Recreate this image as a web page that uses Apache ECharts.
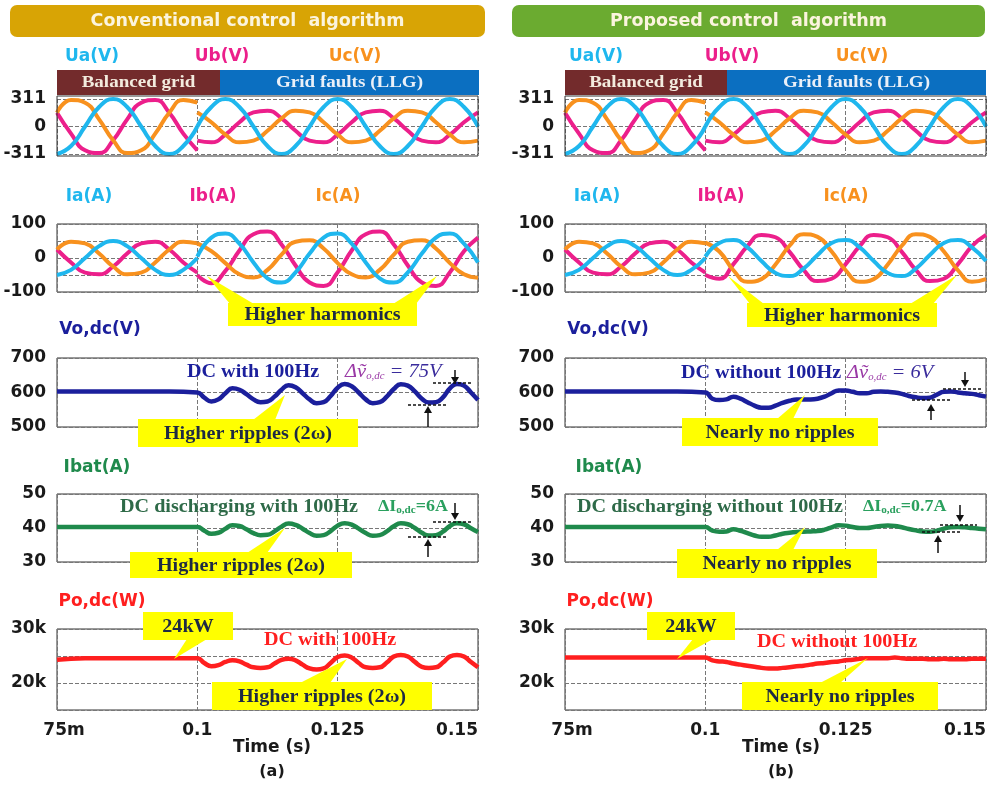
<!DOCTYPE html>
<html>
<head>
<meta charset="utf-8">
<title>Conventional vs proposed control algorithm</title>
<script src="https://cdn.jsdelivr.net/npm/echarts@6/dist/echarts.min.js"></script>
<style>
    html, body { margin: 0; padding: 0; background: #fff; }
    #main { width: 992px; height: 789px; }
</style>
</head>
<body>
<div id="main"></div>
<script>
    var sans = '"DejaVu Sans", Verdana, sans-serif';
    var serif = '"Liberation Serif", "Times New Roman", serif';

    // time stamps (s)
    var tAcPre = [0.075, 0.0775, 0.08, 0.0825, 0.085, 0.0875, 0.09, 0.0925, 0.095, 0.0975, 0.1];
    var tAcPost = [0.1, 0.1025, 0.105, 0.1075, 0.11, 0.1125, 0.115, 0.1175, 0.12, 0.1225, 0.125,
        0.1275, 0.13, 0.1325, 0.135, 0.1375, 0.14, 0.1425, 0.145, 0.1475, 0.15];
    var tDc = [0.075, 0.08, 0.085, 0.09, 0.095, 0.1,
        0.10125, 0.1025, 0.10375, 0.105, 0.10625, 0.1075, 0.10875, 0.11, 0.11125, 0.1125,
        0.11375, 0.115, 0.11625, 0.1175, 0.11875, 0.12, 0.12125, 0.1225, 0.12375, 0.125,
        0.12625, 0.1275, 0.12875, 0.13, 0.13125, 0.1325, 0.13375, 0.135, 0.13625, 0.1375,
        0.13875, 0.14, 0.14125, 0.1425, 0.14375, 0.145, 0.14625, 0.1475, 0.14875, 0.15];

    // grid voltages (V), same in (a) and (b)
    var uaPre = [-311, -220, 0, 220, 311, 220, 0, -220, -311, -220, 0];
    var ubPre = [156, -80, -269, -300, -156, 80, 269, 300, 156, -80, -269];
    var ucPre = [156, 300, 269, 80, -156, -300, -269, -80, 156, 300, 269];
    var uaPost = [0, 220, 311, 220, 0, -220, -311, -220, 0, 220, 311, 220, 0, -220, -311, -220, 0, 220, 311, 220, 0];
    var ubPost = [-160, -179, -93, 48, 160, 179, 93, -48, -160, -179, -93, 48, 160, 179, 93, -48, -160, -179, -93, 48, 160];
    var ucPost = [160, 48, -93, -179, -160, -48, 93, 179, 160, 48, -93, -179, -160, -48, 93, 179, 160, 48, -93, -179, -160];

    // grid currents (A)
    var iaPre = [-50, -35, 0, 35, 50, 35, 0, -35, -50, -35, 0];
    var ibPre = [25, -13, -43, -48, -25, 13, 43, 48, 25, -13, -43];
    var icPre = [25, 48, 43, 13, -25, -48, -43, -13, 25, 48, 43];
    var iaPostA = [4, 60, 72, 42, -13, -60, -72, -42, 13, 60, 72, 42, -13, -60, -72, -42, 13, 60, 72, 42, -13];
    var ibPostA = [-50, -74, -38, 22, 70, 78, 40, -22, -72, -82, -42, 22, 70, 78, 40, -22, -72, -82, -42, 20, 60];
    var icPostA = [43, 20, -15, -48, -57, -35, 10, 48, 52, 28, -15, -48, -57, -35, 10, 48, 52, 28, -15, -48, -58];
    var iaPostB = [4, 44, 53, 31, -9, -44, -53, -31, 9, 44, 53, 31, -9, -44, -53, -31, 9, 44, 53, 31, -9];
    var ibPostB = [-50, -61, -18, 35, 68, 61, 18, -35, -68, -61, -18, 35, 68, 61, 18, -35, -68, -61, -18, 35, 68];
    var icPostB = [45, 19, -36, -70, -62, -19, 36, 70, 62, 19, -36, -70, -62, -19, 36, 70, 62, 19, -36, -70, -62];

    // dc side
    var vdcA = [603, 603, 603, 603, 603, 600, 585, 574, 580, 598, 612, 608, 595, 580, 572, 574,
        588, 608, 621, 615, 598, 580, 569, 572, 590, 614, 625, 618, 600, 580, 569, 572,
        588, 610, 624, 620, 603, 582, 571, 572, 586, 612, 625, 620, 600, 578];
    var vdcB = [603, 603, 603, 603, 603, 600, 582, 578, 580, 588, 582, 572, 562, 556, 556, 562,
        570, 576, 580, 580, 580, 582, 588, 598, 606, 606, 602, 598, 598, 602, 603, 602,
        600, 596, 590, 586, 584, 585, 594, 602, 603, 600, 598, 596, 592, 588];
    var ibatA = [40.3, 40.3, 40.3, 40.3, 40.3, 40.3, 39.2, 38.3, 38.6, 39.8, 40.8, 40.6, 39.6, 38.5, 37.9, 38.0,
        39.0, 40.4, 41.3, 40.9, 39.8, 38.5, 37.7, 37.9, 39.1, 40.7, 41.4, 41.0, 39.8, 38.5, 37.7, 37.9,
        39.0, 40.5, 41.4, 41.1, 40.0, 38.6, 37.8, 37.9, 38.9, 40.6, 41.4, 41.1, 39.9, 38.8];
    var ibatB = [40.3, 40.3, 40.3, 40.3, 40.3, 40.3, 39.2, 38.9, 39.0, 39.6, 39.2, 38.5, 37.8, 37.4, 37.4, 37.8,
        38.3, 38.6, 38.8, 38.9, 39.0, 39.1, 39.5, 40.2, 40.8, 40.7, 40.3, 40.0, 40.0, 40.3, 40.6, 40.7,
        40.6, 40.2, 39.7, 39.3, 39.0, 38.9, 39.2, 39.8, 40.2, 40.3, 40.2, 40.0, 39.8, 39.6];
    var pdcA = [24300, 24600, 24600, 24600, 24600, 24600, 23700, 23100, 23300, 23900, 24200, 24000, 23400, 22900, 22800, 22900,
        23600, 24300, 24500, 24200, 23400, 22700, 22500, 22700, 23700, 24800, 25100, 24700, 23700, 22900, 22800, 22900,
        23800, 24900, 25200, 24900, 23900, 23000, 22800, 22900, 23800, 24900, 25200, 24900, 23900, 22900];
    var pdcB = [24700, 24700, 24700, 24700, 24700, 24700, 24200, 24000, 23900, 23600, 23400, 23200, 23000, 22800, 22700, 22700,
        22800, 22900, 23100, 23200, 23400, 23600, 23700, 23900, 24000, 24200, 24300, 24500, 24600, 24600, 24600, 24600,
        24700, 24600, 24500, 24500, 24500, 24400, 24400, 24500, 24400, 24400, 24400, 24500, 24500, 24500];

    var cyan = '#1fb7ee', magenta = '#ec1f8b', orange = '#f8911e';
    var navy = '#1b1f9c', green = '#1f8a4c', red = '#ff1f1f';
    var callout = '#ffff00', calloutText = '#1e2a44';

    var colLeft = [57, 565];
    var rows = [
        { top: 99, height: 55, min: -311, max: 311, interval: 311 },
        { top: 224, height: 68, min: -100, max: 100, interval: 50 },
        { top: 358, height: 69, min: 500, max: 700, interval: 100 },
        { top: 494, height: 68, min: 30, max: 50, interval: 10 },
        { top: 629, height: 81, min: 15000, max: 30000, interval: 5000 }
    ];
    var yFmt = [
        function (v) { return v; },
        function (v) { return Math.abs(v) === 50 ? '' : v; },
        function (v) { return v; },
        function (v) { return v; },
        function (v) { return (v === 30000 || v === 20000) ? (v / 1000) + 'k' : ''; }
    ];

    function pairs(ts, vs) {
        return ts.map(function (t, i) { return [t, vs[i]]; });
    }

    var grid = [], xAxis = [], yAxis = [];
    for (var c = 0; c < 2; c++) {
        for (var r = 0; r < 5; r++) {
            var gi = c * 5 + r;
            grid.push({
                left: colLeft[c], top: rows[r].top, width: 421, height: rows[r].height,
                show: r > 0, borderColor: '#333', borderWidth: 1, backgroundColor: 'transparent'
            });
            xAxis.push({
                type: 'value', gridIndex: gi, min: 0.075, max: 0.15, interval: 0.025,
                axisLine: { show: false }, axisTick: { show: false },
                splitLine: { show: true, lineStyle: { type: 'dashed', color: '#777', width: 1 } },
                axisLabel: {
                    show: r === 4, margin: 12, color: '#1a1a1a', fontFamily: sans, fontWeight: 'bold', fontSize: 17,
                    alignMaxLabel: 'right',
                    formatter: function (v) { return v < 0.08 ? '{m|75m}' : String(+v.toFixed(3)); },
                    rich: { m: { padding: [0, 0, 0, 14], fontFamily: sans, fontWeight: 'bold', fontSize: 17, color: '#1a1a1a' } }
                }
            });
            yAxis.push({
                type: 'value', gridIndex: gi, min: rows[r].min, max: rows[r].max, interval: rows[r].interval,
                axisLine: { show: false }, axisTick: { show: false },
                splitLine: { show: true, lineStyle: { type: 'dashed', color: '#777', width: 1 } },
                axisLabel: { margin: 11, color: '#1a1a1a', fontFamily: sans, fontWeight: 'bold', fontSize: 17, formatter: yFmt[r] }
            });
        }
    }

    function line(gi, ts, vs, color, w) {
        return {
            type: 'line', xAxisIndex: gi, yAxisIndex: gi, data: pairs(ts, vs),
            showSymbol: false, smooth: true, clip: false, silent: true,
            lineStyle: { color: color, width: w || 4 }, itemStyle: { color: color }
        };
    }

    var series = [];
    var iPost = [[iaPostA, ibPostA, icPostA], [iaPostB, ibPostB, icPostB]];
    var dc = [[vdcA, ibatA, pdcA], [vdcB, ibatB, pdcB]];
    for (c = 0; c < 2; c++) {
        var g = c * 5;
        series.push(line(g, tAcPre, ubPre, magenta), line(g, tAcPost, ubPost, magenta));
        series.push(line(g, tAcPre, ucPre, orange), line(g, tAcPost, ucPost, orange));
        series.push(line(g, tAcPre, uaPre, cyan), line(g, tAcPost, uaPost, cyan));
        series.push(line(g + 1, tAcPre, ibPre, magenta), line(g + 1, tAcPost, iPost[c][1], magenta));
        series.push(line(g + 1, tAcPre, icPre, orange), line(g + 1, tAcPost, iPost[c][2], orange));
        series.push(line(g + 1, tAcPre, iaPre, cyan), line(g + 1, tAcPost, iPost[c][0], cyan));
        series.push(line(g + 2, tDc, dc[c][0], navy, 4.5));
        series.push(line(g + 3, tDc, dc[c][1], green, 4.5));
        series.push(line(g + 4, tDc, dc[c][2], red, 4.5));
    }

    // ---- annotations ----
    function txt(x, y, s, color, font, sx) {
        return { type: 'text', x: x, y: y, z: 50, silent: true, scaleX: sx || 1,
            style: { text: s, fill: color, font: font, textAlign: 'center', textVerticalAlign: 'middle' } };
    }
    function stxt(x, y, s, color, size) {
        return txt(x, y, s, color, 'bold ' + (size || 18) + 'px ' + serif, 1.12);
    }
    function box(x, y, w, h, color, rr) {
        return { type: 'rect', z: 40, silent: true, shape: { x: x, y: y, width: w, height: h, r: rr || 0 }, style: { fill: color } };
    }
    function wedge(pts) {
        return { type: 'polygon', z: 40, silent: true, shape: { points: pts }, style: { fill: callout } };
    }
    function dash(x1, x2, y) {
        return { type: 'line', z: 45, silent: true, shape: { x1: x1, y1: y, x2: x2, y2: y },
            style: { stroke: '#111', lineWidth: 1.3, lineDash: [3, 2] } };
    }
    function arrow(x, y1, y2) {
        var d = y2 > y1 ? 1 : -1;
        return [
            { type: 'line', z: 45, silent: true, shape: { x1: x, y1: y1, x2: x, y2: y2 - d * 6 }, style: { stroke: '#111', lineWidth: 1.5 } },
            { type: 'polygon', z: 45, silent: true, shape: { points: [[x - 4, y2 - d * 7], [x + 4, y2 - d * 7], [x, y2]] }, style: { fill: '#111' } }
        ];
    }
    function calloutBox(x, y, w, h, label, wedges) {
        var out = [box(x, y, w, h, callout)];
        wedges.forEach(function (p) { out.push(wedge(p)); });
        out.push(stxt(x + w / 2, y + h / 2 + 1, label, calloutText));
        return out;
    }
    function deltaV(x, y, val) {
        return { type: 'text', x: x, y: y, z: 50, silent: true, scaleX: 1.08,
            style: { text: '{d|Δṽ}{s|o,dc}{e| = ' + val + '}', textVerticalAlign: 'middle',
                rich: {
                    d: { fill: '#9a3aa6', font: 'italic 19px ' + serif },
                    s: { fill: '#9a3aa6', font: 'italic 10px ' + serif, verticalAlign: 'bottom' },
                    e: { fill: '#3a2c9c', font: 'italic 19px ' + serif }
                } } };
    }
    function deltaI(x, y, val) {
        return { type: 'text', x: x, y: y, z: 50, silent: true, scaleX: 1.12,
            style: { text: '{d|ΔI}{s|o,dc}{d|=' + val + '}', textVerticalAlign: 'middle',
                rich: {
                    d: { fill: '#2aa05e', font: 'bold 16px ' + serif },
                    s: { fill: '#2aa05e', font: 'bold 10px ' + serif, verticalAlign: 'bottom' }
                } } };
    }

    var lab = 'bold 17px ' + sans;
    var graphic = [];
    var heads = [
        { x: 10, w: 475, color: '#d8a405', text: 'Conventional control  algorithm' },
        { x: 512, w: 473, color: '#6bab30', text: 'Proposed control  algorithm' }
    ];
    var legendX = [[92, 222, 355, 89, 213, 338, 100, 97, 102, 272], [596, 732, 862, 597, 721, 846, 608, 609, 610, 781]];
    var boxX = [[57, 220, 479], [565, 727, 986]];
    for (c = 0; c < 2; c++) {
        var h = heads[c], L = legendX[c], B = boxX[c];
        graphic.push(box(h.x, 5, h.w, 32, h.color, 7));
        graphic.push(txt(h.x + h.w / 2, 21, h.text, '#fbf4de', 'bold 17.5px ' + sans));
        graphic.push(txt(L[0], 57, 'Ua(V)', cyan, lab), txt(L[1], 57, 'Ub(V)', magenta, lab), txt(L[2], 57, 'Uc(V)', orange, lab));
        graphic.push(box(B[0], 70, B[1] - B[0], 25, '#732b2c'), box(B[1], 70, B[2] - B[1], 25, '#0b6fc1'));
        graphic.push(stxt((B[0] + B[1]) / 2, 83, 'Balanced grid', '#f3ebde', 17));
        graphic.push(stxt((B[1] + B[2]) / 2, 83, 'Grid faults (LLG)', '#eaf0f8', 17));
        graphic.push({ type: 'rect', z: 30, silent: true, shape: { x: colLeft[c], y: 96, width: 421, height: 60 },
            style: { fill: 'none', stroke: '#333', lineWidth: 1 } });
        graphic.push(txt(L[3], 197, 'Ia(A)', cyan, lab), txt(L[4], 197, 'Ib(A)', magenta, lab), txt(L[5], 197, 'Ic(A)', orange, lab));
        graphic.push(txt(L[6], 330, 'Vo,dc(V)', navy, lab));
        graphic.push(txt(L[7], 468, 'Ibat(A)', green, lab));
        graphic.push(txt(L[8], 602, 'Po,dc(W)', red, lab));
        graphic.push(txt(L[9], 748, 'Time (s)', '#1a1a1a', 'bold 17px ' + sans));
        graphic.push(txt(L[9], 772, c === 0 ? '(a)' : '(b)', '#1a1a1a', 'bold 16px ' + sans));
    }

    // (a) conventional
    graphic = graphic.concat(
        calloutBox(228, 303, 189, 23, 'Higher harmonics', [[[207, 276], [230, 304], [254, 304]], [[437, 276], [393, 304], [416, 304]]]),
        [stxt(253, 372, 'DC with 100Hz', navy), deltaV(345, 372, '75V')],
        [dash(433, 472, 383), dash(408, 447, 405)], arrow(455, 370, 384), arrow(428, 427, 406),
        calloutBox(138, 419, 220, 28, 'Higher ripples (2ω)', [[[285, 395], [253, 420], [275, 420]]]),
        [stxt(239, 507, 'DC discharging with 100Hz', '#2e6a48'), deltaI(378, 507, '6A')],
        [dash(433, 473, 522), dash(408, 448, 537)], arrow(455, 503, 520), arrow(428, 557, 539),
        calloutBox(130, 552, 222, 26, 'Higher ripples (2ω)', [[[285, 528], [247, 553], [267, 553]]]),
        calloutBox(143, 612, 90, 28, '24kW', [[[174, 659], [187, 639], [207, 639]]]),
        [stxt(330, 640, 'DC with 100Hz', red)],
        calloutBox(212, 682, 220, 28, 'Higher ripples (2ω)', [[[347, 659], [300, 683], [330, 683]]])
    );
    // (b) proposed
    graphic = graphic.concat(
        calloutBox(747, 303, 190, 24, 'Higher harmonics', [[[728, 276], [750, 304], [764, 304]], [[957, 275], [910, 304], [933, 304]]]),
        [stxt(761, 373, 'DC without 100Hz', navy), deltaV(847, 373, '6V')],
        [dash(943, 982, 389), dash(912, 950, 400)], arrow(965, 372, 387), arrow(931, 420, 404),
        calloutBox(682, 418, 196, 28, 'Nearly no ripples', [[[805, 395], [777, 419], [793, 419]]]),
        [stxt(710, 507, 'DC discharging without 100Hz', '#2e6a48'), deltaI(863, 507, '0.7A')],
        [dash(940, 977, 525), dash(922, 962, 532)], arrow(960, 505, 522), arrow(938, 553, 535),
        calloutBox(677, 549, 200, 29, 'Nearly no ripples', [[[805, 527], [777, 550], [793, 550]]]),
        calloutBox(647, 612, 88, 28, '24kW', [[[677, 659], [693, 639], [713, 639]]]),
        [stxt(837, 642, 'DC without 100Hz', red)],
        calloutBox(742, 682, 196, 28, 'Nearly no ripples', [[[868, 658], [820, 683], [840, 683]]])
    );

    var myChart = echarts.init(document.getElementById('main'));
    var option = {
        animation: false,
        backgroundColor: '#fff',
        grid: grid,
        xAxis: xAxis,
        yAxis: yAxis,
        series: series,
        graphic: { elements: graphic }
    };
    myChart.setOption(option);
</script>
</body>
</html>
